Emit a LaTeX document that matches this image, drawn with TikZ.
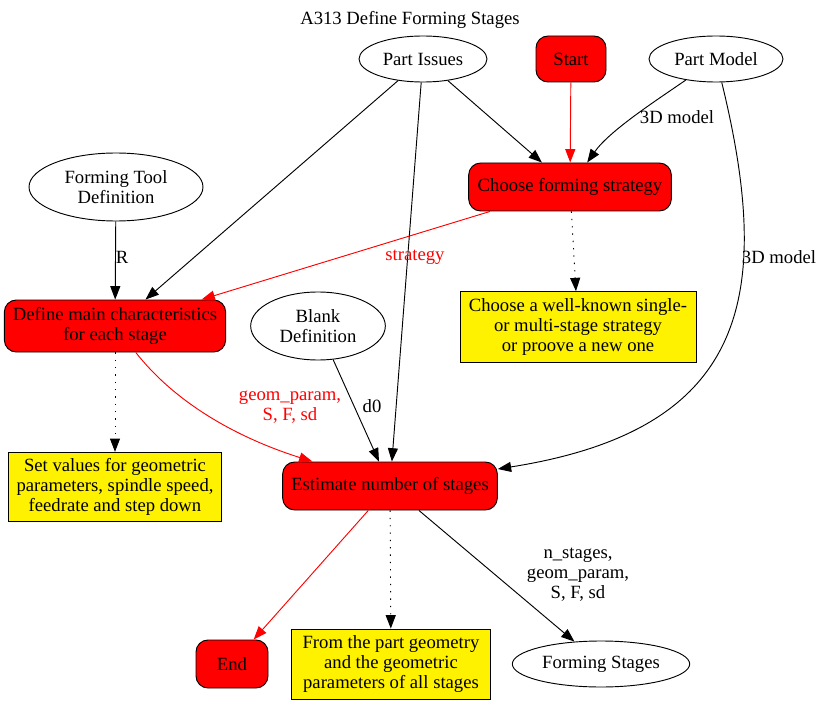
\documentclass[tikz,border=0pt]{standalone}
\usepackage{fontspec}
\setmainfont{Liberation Serif}
\usetikzlibrary{shapes,arrows.meta,calc}

\begin{document}
\begin{tikzpicture}[x=0.75pt, y=-0.75pt,
        every node/.style={font=\fontsize{14}{15}\selectfont, align=center, inner sep=0pt},
        data/.style={ellipse, draw, fill=white, line width=0.7pt},
        task/.style={rectangle, rounded corners=9pt, draw, fill=red, line width=0.7pt},
        note/.style={rectangle, draw, fill=yellow, line width=0.7pt},
        flow/.style={-{Triangle[length=10pt,width=7.5pt]}, line width=0.7pt},
        hint/.style={flow, dash pattern=on 1pt off 4.5pt}]
        \useasboundingbox (0, 0) rectangle (821, 706);

        \node (title) at (410, 20) {A313 Define Forming Stages};

        % inputs and tasks
        \node[data, minimum width=96pt, minimum height=34.5pt] (issues) at (423, 59) {Part Issues};
        \node[task, minimum width=52.5pt, minimum height=34.5pt] (start) at (571, 59) {Start};
        \node[data, minimum width=100.5pt, minimum height=34.5pt] (model) at (716, 59) {Part Model};
        \node[task, minimum width=152pt, minimum height=36pt] (strategy) at (570, 187) {Choose forming strategy};
        \node[data, minimum width=130.5pt, minimum height=51pt] (tool) at (116, 187) {Forming Tool\\Definition};
        \node[task, minimum width=166pt, minimum height=39pt] (define) at (115, 326) {Define main characteristics\\for each stage};
        \node[data, minimum width=101pt, minimum height=51pt] (blank) at (318, 326) {Blank\\Definition};
        \node[note, minimum width=177pt, minimum height=53pt] (strnote) at (578, 327)
        {Choose a well-known single-\\or multi-stage strategy\\or proove a new one};
        \node[note, minimum width=160pt, minimum height=52pt] (defnote) at (115, 487)
        {Set values for geometric\\parameters, spindle speed,\\feedrate and step down};
        \node[task, minimum width=161pt, minimum height=36pt] (estimate) at (390, 486) {Estimate number of stages};
        \node[task, minimum width=54pt, minimum height=36pt] (end) at (232, 664) {End};
        \node[note, minimum width=149pt, minimum height=52.5pt] (estnote) at (391, 664)
        {From the part geometry\\and the geometric\\parameters of all stages};
        \node[data, minimum width=133pt, minimum height=34.5pt] (stages) at (601, 664) {Forming Stages};

        \begin{scope}[flow]
            \draw (issues) -- (strategy);
            \draw[red] (start) -- (strategy);
            \draw (model) .. controls (660, 98) and (610, 130) .. (strategy);
            \draw (issues) -- (define);
            \draw (issues) -- (estimate);
            \draw (tool) -- (define);
            \draw[red] (strategy) -- (define);
            \draw (model) .. controls (775, 300) and (745, 430) .. (estimate);
            \draw[red] (define) .. controls (185, 415) and (260, 445) .. (estimate);
            \draw (blank) -- (estimate);
            \draw[red] (estimate) -- (end);
            \draw (estimate) -- (stages);
        \end{scope}

        \begin{scope}[hint]
            \draw (strategy) -- (strnote);
            \draw (define) -- (defnote);
            \draw (estimate) -- (estnote);
        \end{scope}

        % edge labels
        \node (lmodel1) at (677, 117) {3D model};
        \node (lr) at (122, 257) {R};
        \node[text=red] (lstrategy) at (415, 257) {strategy};
        \node (lmodel2) at (779, 257) {3D model};
        \node[text=red] (lgeom) at (290, 407) {geom\_param,\\S, F, sd};
        \node (ld0) at (372, 406) {d0};
        \node (lstages) at (578, 575) {n\_stages,\\geom\_param,\\S, F, sd};

        \end{tikzpicture}
\end{document}
